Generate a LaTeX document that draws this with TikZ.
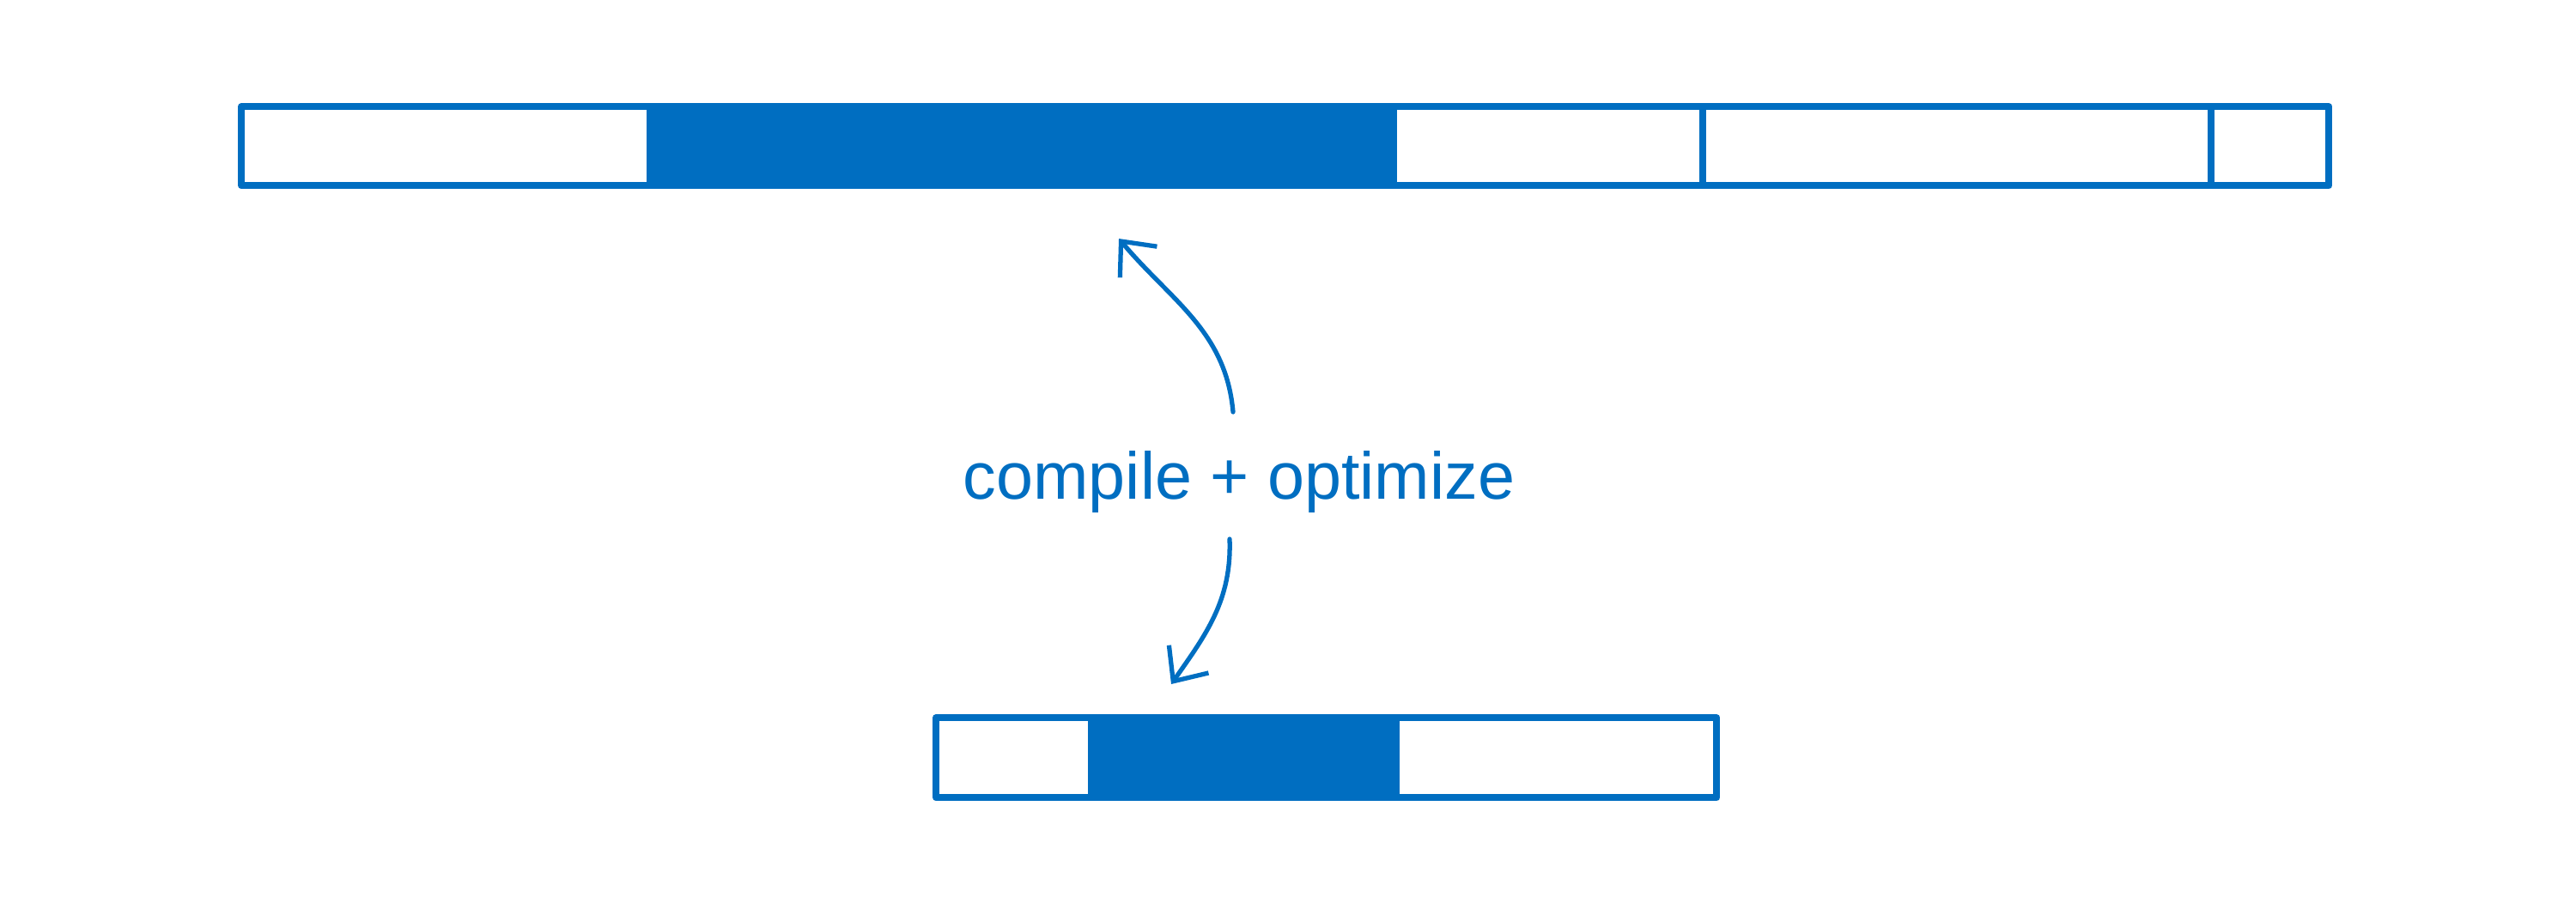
\documentclass[tikz,border=0pt]{standalone}
\usepackage{fontspec}
\setmainfont{Liberation Sans}
\usetikzlibrary{arrows.meta}
\definecolor{ink}{RGB}{0,110,193}
\begin{document}
\begin{tikzpicture}[
  seg/.style={draw=ink,line width=2.4pt,inner sep=0pt,anchor=north west,line join=round},
  segfill/.style={seg,fill=ink},
  conn/.style={draw=ink,line width=1.5pt,line cap=round,-{Straight Barb[length=9pt,width=16pt]}}]
\useasboundingbox (0,0) rectangle (30,-10.51);
% top bar
\node[seg,minimum width=4.76cm,minimum height=0.92cm] (t1) at (2.77,-1.20) {};
\node[segfill,minimum width=8.66cm,minimum height=0.92cm] (t2) at (7.53,-1.20) {};
\node[seg,minimum width=3.60cm,minimum height=0.92cm] (t3) at (16.19,-1.20) {};
\node[seg,minimum width=5.92cm,minimum height=0.92cm] (t4) at (19.79,-1.20) {};
\node[seg,minimum width=1.37cm,minimum height=0.92cm] (t5) at (25.71,-1.20) {};
% bottom bar
\node[seg,minimum width=1.81cm,minimum height=0.93cm] (b1) at (10.86,-8.32) {};
\node[segfill,minimum width=3.55cm,minimum height=0.93cm] (b2) at (12.67,-8.32) {};
\node[seg,minimum width=3.73cm,minimum height=0.93cm] (b3) at (16.22,-8.32) {};
% label
\node[text=ink,font=\fontsize{22}{26}\selectfont] (lbl) at (14.43,-5.62) {compile + optimize};
\coordinate (upstart) at (14.36,-4.80);
\coordinate (upend) at (13.03,-2.78);
\coordinate (dnstart) at (14.32,-6.28);
\coordinate (dnend) at (13.64,-7.97);
\draw[conn] (upstart) to[out=95,in=-50] (upend);
\draw[conn] (dnstart) to[out=-88,in=55] (dnend);
\end{tikzpicture}
\end{document}
